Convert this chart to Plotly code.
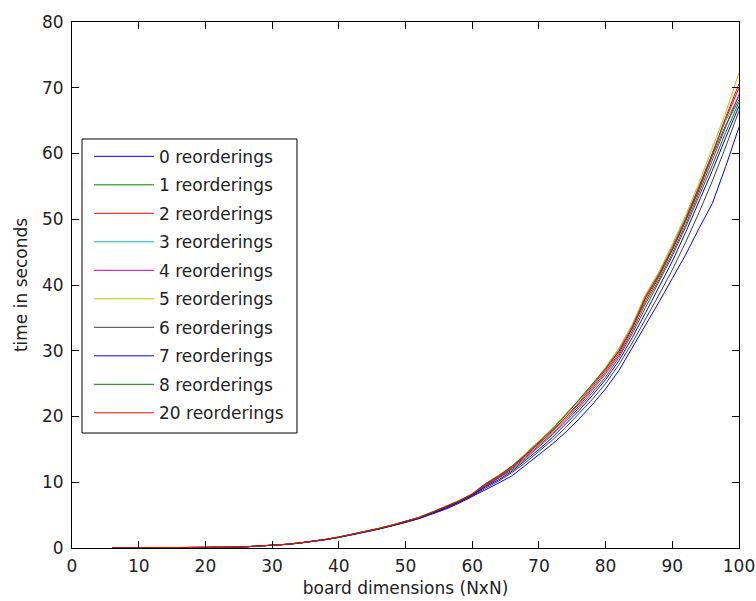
import plotly.graph_objects as go

# board dimensions N (x axis)
board_n = list(range(6, 101, 2))

series_names = ["0 reorderings", "1 reorderings", "2 reorderings", "3 reorderings",
                "4 reorderings", "5 reorderings", "6 reorderings", "7 reorderings",
                "8 reorderings", "20 reorderings"]

t0 = [0.01, 0.01, 0.02, 0.02, 0.03, 0.04, 0.05, 0.07, 0.09, 0.12, 0.18, 0.27, 0.38, 0.53, 0.72, 0.97, 1.26, 1.60, 1.98, 2.42, 2.86, 3.34, 3.88, 4.45, 5.15, 5.90, 6.80,
      7.8, 8.9, 9.9, 11.0, 12.6, 14.2, 15.8, 17.6, 19.6, 21.8, 24.2, 27.0, 30.4, 33.8, 37.4, 41.0, 44.6, 48.6, 52.4, 58.0, 64.0]
t1 = [0.01, 0.01, 0.02, 0.02, 0.03, 0.04, 0.05, 0.07, 0.09, 0.12, 0.18, 0.28, 0.40, 0.55, 0.74, 0.99, 1.29, 1.64, 2.03, 2.48, 2.93, 3.42, 3.97, 4.56, 5.33, 6.12, 7.02,
      8.0, 9.4, 10.6, 11.9, 13.6, 15.4, 17.2, 19.2, 21.3, 23.6, 26.0, 29.0, 32.6, 36.6, 40.4, 44.4, 48.8, 53.4, 58.2, 63.2, 67.8]
t2 = [0.01, 0.01, 0.02, 0.02, 0.03, 0.04, 0.05, 0.07, 0.09, 0.12, 0.18, 0.28, 0.40, 0.55, 0.75, 1.00, 1.30, 1.65, 2.05, 2.50, 2.95, 3.45, 4.00, 4.60, 5.40, 6.20, 7.10,
      8.1, 9.6, 10.8, 12.2, 14.0, 15.9, 17.7, 19.8, 21.9, 24.3, 26.8, 29.6, 33.4, 38.0, 41.4, 45.4, 49.8, 54.6, 59.8, 65.2, 70.0]
t3 = [0.01, 0.01, 0.02, 0.02, 0.03, 0.04, 0.05, 0.07, 0.09, 0.12, 0.19, 0.29, 0.41, 0.56, 0.76, 1.02, 1.32, 1.67, 2.08, 2.53, 2.99, 3.50, 4.05, 4.66, 5.46, 6.27, 7.18,
      8.2, 9.7, 11.0, 12.4, 14.3, 16.2, 18.1, 20.3, 22.4, 24.8, 27.4, 30.3, 33.9, 38.4, 41.8, 45.9, 50.3, 55.0, 60.1, 65.0, 68.6]
t4 = [0.01, 0.01, 0.02, 0.02, 0.03, 0.04, 0.05, 0.07, 0.09, 0.12, 0.18, 0.28, 0.40, 0.55, 0.75, 1.00, 1.30, 1.64, 2.04, 2.49, 2.94, 3.44, 3.99, 4.58, 5.38, 6.18, 7.08,
      8.1, 9.5, 10.7, 12.1, 13.8, 15.6, 17.4, 19.5, 21.6, 24.0, 26.5, 29.3, 33.0, 37.2, 40.8, 44.8, 49.2, 54.0, 59.0, 64.2, 69.0]
t5 = [0.01, 0.01, 0.02, 0.02, 0.03, 0.04, 0.05, 0.07, 0.09, 0.13, 0.19, 0.29, 0.41, 0.57, 0.77, 1.03, 1.33, 1.69, 2.10, 2.56, 3.02, 3.53, 4.09, 4.70, 5.51, 6.32, 7.24,
      8.3, 9.8, 11.1, 12.5, 14.4, 16.3, 18.2, 20.4, 22.5, 24.9, 27.5, 30.4, 34.0, 38.6, 42.0, 46.2, 50.6, 55.5, 60.8, 66.2, 72.3]
t6 = [0.01, 0.01, 0.02, 0.02, 0.03, 0.04, 0.05, 0.07, 0.09, 0.12, 0.18, 0.27, 0.39, 0.54, 0.73, 0.98, 1.27, 1.62, 2.00, 2.45, 2.89, 3.38, 3.92, 4.50, 5.24, 6.00, 6.92,
      7.9, 9.1, 10.2, 11.5, 13.0, 14.7, 16.4, 18.3, 20.4, 22.6, 25.0, 27.9, 31.2, 34.8, 38.5, 42.3, 46.5, 51.0, 55.8, 61.0, 66.5]
t7 = [0.01, 0.01, 0.02, 0.02, 0.03, 0.04, 0.05, 0.07, 0.09, 0.12, 0.18, 0.28, 0.39, 0.54, 0.74, 0.99, 1.28, 1.63, 2.02, 2.46, 2.91, 3.40, 3.95, 4.53, 5.28, 6.06, 6.98,
      8.0, 9.3, 10.4, 11.7, 13.3, 15.0, 16.8, 18.8, 20.9, 23.2, 25.6, 28.5, 32.0, 35.8, 39.6, 43.6, 48.0, 52.6, 57.4, 62.4, 67.2]
t8 = [0.01, 0.01, 0.02, 0.02, 0.03, 0.04, 0.05, 0.07, 0.09, 0.12, 0.18, 0.28, 0.40, 0.56, 0.76, 1.01, 1.31, 1.66, 2.07, 2.52, 2.97, 3.48, 4.03, 4.64, 5.44, 6.25, 7.15,
      8.2, 9.8, 11.0, 12.5, 14.2, 16.1, 18.0, 20.2, 22.6, 25.0, 27.3, 30.0, 33.5, 37.6, 41.2, 45.3, 49.7, 54.5, 59.6, 64.3, 68.2]
t20 = [0.02, 0.02, 0.03, 0.03, 0.04, 0.05, 0.06, 0.08, 0.10, 0.13, 0.19, 0.29, 0.41, 0.56, 0.76, 1.01, 1.31, 1.66, 2.06, 2.51, 2.96, 3.47, 4.02, 4.62, 5.43, 6.23, 7.13,
       8.2, 9.7, 10.9, 12.3, 14.1, 16.0, 17.8, 19.9, 22.1, 24.6, 27.1, 29.9, 33.6, 38.2, 41.6, 45.6, 50.0, 54.9, 60.0, 65.5, 70.6]

series_values = [t0, t1, t2, t3, t4, t5, t6, t7, t8, t20]
series_colors = ["#0000FF", "#008000", "#FF0000", "#00BFBF", "#BF00BF",
                 "#BFBF00", "#404040", "#0000FF", "#008000", "#FF0000"]

x_ticks = [0, 10, 20, 30, 40, 50, 60, 70, 80, 90, 100]
y_ticks = [0, 10, 20, 30, 40, 50, 60, 70, 80]

FONT = "DejaVu Sans"
FS = 17

fig = go.Figure()
for i, (name, vals, col) in enumerate(zip(series_names, series_values, series_colors)):
    fig.add_trace(go.Scatter(x=board_n, y=vals, mode="lines", name=name,
                             legendgroup=f"g{i}",
                             line=dict(color=col, width=1)))

axis_common = dict(showline=True, linecolor="black", linewidth=1, mirror="allticks",
                   ticks="inside", ticklen=7, tickcolor="black", tickwidth=1,
                   showgrid=False, zeroline=False, automargin=False,
                   tickfont=dict(family=FONT, size=FS, color="#222"))

# legend frame (MATLAB-style box around the legend entries)
fig.add_shape(type="rect", xref="paper", yref="paper",
              x0=0.015, x1=0.3373, y0=0.2186, y1=0.7776,
              line=dict(color="black", width=1), fillcolor="white", layer="above")

fig.update_layout(
    width=756, height=601,
    margin=dict(l=72, r=17, t=22, b=53),
    paper_bgcolor="white", plot_bgcolor="white",
    font=dict(family=FONT, size=FS, color="#222"),
    xaxis=dict(range=[0, 100], tickvals=x_ticks, ticklabelstandoff=3,
               title=dict(text="board dimensions (NxN)", standoff=6,
                          font=dict(family=FONT, size=FS, color="#222")),
               **axis_common),
    yaxis=dict(range=[0, 80], tickvals=y_ticks, ticklabelstandoff=4,
               title=dict(text="time in seconds", standoff=10,
                          font=dict(family=FONT, size=FS, color="#222")),
               **axis_common),
    legend=dict(x=0.0255, y=0.778, xanchor="left", yanchor="top",
                bgcolor="rgba(0,0,0,0)", borderwidth=0,
                tracegroupgap=3.4, itemwidth=60,
                font=dict(family=FONT, size=FS, color="#222")),
    showlegend=True,
)

fig.write_html("out.html", config={"displayModeBar": False},
               post_script="document.body.style.margin='0';document.body.style.overflow='hidden';")
